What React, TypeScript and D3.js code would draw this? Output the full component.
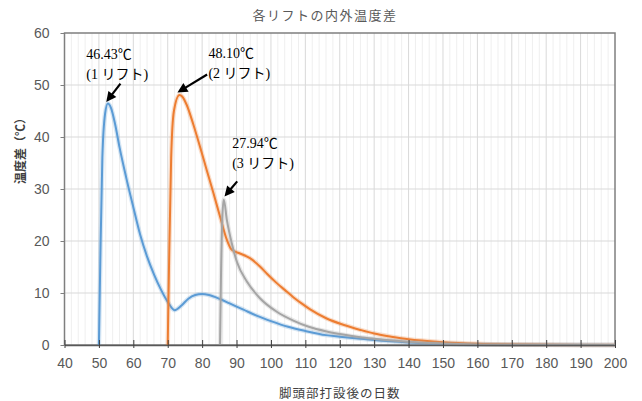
import React, { useEffect, useRef } from 'react';
import * as d3 from 'd3';

// data
const xTicks = [40, 50, 60, 70, 80, 90, 100, 110, 120, 130, 140, 150, 160, 170, 180, 190, 200];
const yTicks = [0, 10, 20, 30, 40, 50, 60];

const lift1Days = [50, 50.4, 51, 51.8, 52.6, 53.5, 54.7, 56, 58, 60, 62, 64, 66, 68, 70, 72, 74, 76, 78, 80, 82, 85, 88, 92, 96, 100, 105, 110, 116, 120, 126, 130, 140, 150, 160, 170, 200];
const lift1Vals = [0, 16, 36, 44.5, 46.43, 45.6, 42.5, 38, 32, 26.5, 21.2, 17, 13.6, 10.7, 8.3, 6.7, 7.6, 8.9, 9.6, 9.8, 9.6, 8.9, 8.0, 6.8, 5.6, 4.6, 3.5, 2.7, 1.9, 1.6, 1.2, 0.95, 0.5, 0.25, 0.1, 0.03, 0];

const lift2Days = [70, 70.4, 71, 71.8, 73.4, 74.2, 75.5, 77.4, 79.4, 81.3, 83.3, 85.2, 87.2, 88.6, 91, 93.9, 96.8, 99, 101.7, 104, 106.5, 109, 111.4, 116.2, 121, 126, 130, 135, 140, 150, 160, 170, 180, 200];
const lift2Vals = [0, 16, 36, 45, 48.1, 47.8, 46.2, 42.5, 38.1, 33.7, 29.2, 24.7, 20.2, 18.3, 17.6, 16.7, 15.1, 13.6, 11.9, 10.6, 9.2, 7.95, 6.85, 5.1, 3.9, 2.9, 2.2, 1.6, 1.1, 0.55, 0.25, 0.1, 0.03, 0];

const lift3Days = [85.2, 85.5, 85.9, 86.3, 87.2, 88.6, 90.1, 93, 96.8, 101.7, 106.5, 111, 116.2, 121, 126, 130, 140, 150, 160, 170, 200];
const lift3Vals = [0, 14, 25, 27.94, 24, 19.6, 16, 12.2, 9.0, 6.4, 4.7, 3.5, 2.6, 2.0, 1.5, 1.2, 0.6, 0.3, 0.12, 0.04, 0];

const seriesColors = ['#5b9bd5', '#ed7d31', '#a5a5a5'];

const peakDays = [52.6, 73.4, 86.3];
const peakVals = [46.43, 48.1, 27.94];
const peakLabels = ['46.43℃', '48.10℃', '27.94℃'];
const liftLabels = ['(1 リフト)', '(2 リフト)', '(3 リフト)'];

const App = () => {
  const ref = useRef<SVGSVGElement>(null);

  useEffect(() => {
    const svg = d3.select(ref.current);
    svg.selectAll('*').remove();

    const x = d3.scaleLinear().domain([40, 200]).range([64.5, 615]);
    const y = d3.scaleLinear().domain([0, 60]).range([345, 33]);

    const grid = svg.append('g');
    // minor vertical grid every 2 days
    grid.selectAll('.minor')
      .data(d3.range(42, 200, 2).filter(d => d % 10 !== 0))
      .enter().append('line')
      .attr('x1', d => x(d)).attr('x2', d => x(d))
      .attr('y1', y(60)).attr('y2', y(0))
      .attr('stroke', '#efefef').attr('stroke-width', 1);
    grid.selectAll('.majorx')
      .data(xTicks.slice(1, -1))
      .enter().append('line')
      .attr('x1', d => x(d)).attr('x2', d => x(d))
      .attr('y1', y(60)).attr('y2', y(0))
      .attr('stroke', '#d9d9d9').attr('stroke-width', 1);
    grid.selectAll('.majory')
      .data(yTicks.slice(1, -1))
      .enter().append('line')
      .attr('x1', x(40)).attr('x2', x(200))
      .attr('y1', d => y(d)).attr('y2', d => y(d))
      .attr('stroke', '#d9d9d9').attr('stroke-width', 1);

    // frame
    svg.append('rect')
      .attr('x', x(40)).attr('y', y(60))
      .attr('width', x(200) - x(40)).attr('height', y(0) - y(60))
      .attr('fill', 'none').attr('stroke', '#7f7f7f').attr('stroke-width', 1.5);

    // curves
    const line = d3.line<[number, number]>()
      .x(d => x(d[0]))
      .y(d => y(d[1]))
      .curve(d3.curveMonotoneX);

    const series = [
      d3.zip(lift1Days, lift1Vals),
      d3.zip(lift2Days, lift2Vals),
      d3.zip(lift3Days, lift3Vals),
    ] as [number, number][][];

    series.forEach((s, i) => {
      svg.append('path')
        .attr('d', line(s))
        .attr('fill', 'none')
        .attr('stroke', seriesColors[i])
        .attr('stroke-opacity', 0.25)
        .attr('stroke-width', 4.5);
      svg.append('path')
        .attr('d', line(s))
        .attr('fill', 'none')
        .attr('stroke', seriesColors[i])
        .attr('stroke-width', 2)
        .attr('stroke-linejoin', 'round');
    });

    // axes
    const xAxis = svg.append('g')
      .attr('transform', `translate(0,${y(0)})`)
      .call(d3.axisBottom(x).tickValues(xTicks).tickSizeInner(4).tickSizeOuter(0).tickPadding(9));
    xAxis.select('.domain').attr('stroke', '#595959').attr('stroke-width', 1.5);
    xAxis.selectAll('.tick line').attr('stroke', '#404040').attr('y1', -5).attr('y2', 3);
    xAxis.selectAll('.tick text')
      .attr('fill', '#595959')
      .style('font-family', 'Liberation Sans, Arial, sans-serif')
      .style('font-size', '14px');

    const yAxis = svg.append('g')
      .attr('transform', `translate(${x(40)},0)`)
      .call(d3.axisLeft(y).tickValues(yTicks).tickSizeInner(4).tickSizeOuter(0).tickPadding(11));
    yAxis.select('.domain').remove();
    yAxis.selectAll('.tick line').attr('stroke', '#7f7f7f');
    yAxis.selectAll('.tick text')
      .attr('fill', '#595959')
      .style('font-family', 'Liberation Sans, Arial, sans-serif')
      .style('font-size', '14px');

    // titles
    svg.append('text')
      .attr('x', 325).attr('y', 20)
      .attr('text-anchor', 'middle')
      .attr('fill', '#595959')
      .style('font-family', 'Noto Sans CJK JP, sans-serif')
      .style('font-size', '13px')
      .style('letter-spacing', '1.5px')
      .text('各リフトの内外温度差');

    svg.append('text')
      .attr('x', (x(40) + x(200)) / 2).attr('y', 398)
      .attr('text-anchor', 'middle')
      .attr('fill', '#404040')
      .style('font-family', 'Noto Sans CJK JP, sans-serif')
      .style('font-size', '12.5px')
      .style('letter-spacing', '1px')
      .text('脚頭部打設後の日数');

    svg.append('text')
      .attr('transform', 'translate(25,148) rotate(-90)')
      .attr('text-anchor', 'middle')
      .attr('fill', '#404040')
      .style('font-family', 'Noto Sans CJK JP, sans-serif')
      .style('font-size', '12px')
      .style('font-weight', 'bold')
      .text('温度差（℃）');

    // peak annotations
    const labelOffsets = [[-21.6, -45], [29, -37], [8.4, -52]];
    const tailOffsets = [[12.6, -20], [27.7, -20.4], [13.4, -18.3]];
    const tipOffsets = [[-1.6, -1.6], [-2, -2.3], [0.7, -3.3]];

    peakDays.forEach((day, i) => {
      const px = x(day);
      const py = y(peakVals[i]);
      const tx = px + tipOffsets[i][0];
      const ty = py + tipOffsets[i][1];
      const sx = px + tailOffsets[i][0];
      const sy = py + tailOffsets[i][1];
      const len = Math.hypot(tx - sx, ty - sy);
      const ux = (tx - sx) / len;
      const uy = (ty - sy) / len;
      const headLen = 10;
      const headW = 5;
      const bx = tx - ux * headLen;
      const by = ty - uy * headLen;

      svg.append('line')
        .attr('x1', sx).attr('y1', sy)
        .attr('x2', bx + ux * 1).attr('y2', by + uy * 1)
        .attr('stroke', '#000').attr('stroke-width', 2.2);
      svg.append('polygon')
        .attr('points', [
          [tx, ty],
          [bx - uy * headW, by + ux * headW],
          [bx + uy * headW, by - ux * headW],
        ].map(p => p.join(',')).join(' '))
        .attr('fill', '#000');

      const lx = px + labelOffsets[i][0];
      const ly = py + labelOffsets[i][1];
      const g = svg.append('g')
        .style('font-family', 'Liberation Serif, Noto Sans CJK JP, serif')
        .style('font-size', '14px')
        .attr('fill', '#000');
      g.append('text').attr('x', lx).attr('y', ly).text(peakLabels[i]);
      g.append('text').attr('x', lx).attr('y', ly + 20).text(liftLabels[i]);
    });
  }, []);

  return (
    <div style={{ position: 'absolute', left: 0, top: 0, background: '#fff' }}>
      <svg ref={ref} width={642} height={401} style={{ display: 'block' }} />
    </div>
  );
};

export default App;
